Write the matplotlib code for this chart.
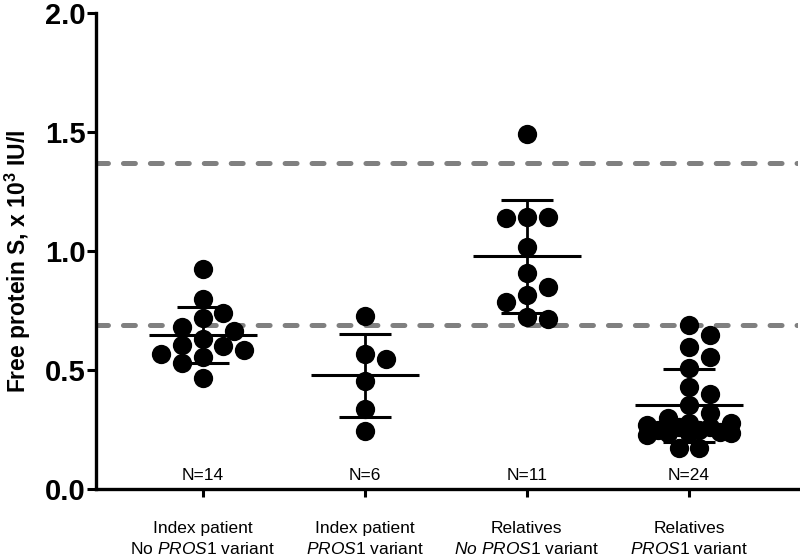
import matplotlib
matplotlib.use("Agg")
import matplotlib.pyplot as plt
import numpy as np

plt.rcParams['font.family'] = ['Liberation Sans', 'DejaVu Sans']
plt.rcParams['mathtext.fontset'] = 'custom'
plt.rcParams['mathtext.rm'] = 'Liberation Sans'
plt.rcParams['mathtext.it'] = 'Liberation Sans:italic'
plt.rcParams['mathtext.bf'] = 'Liberation Sans:bold'
plt.rcParams['lines.scale_dashes'] = False

# data (x 10^3 IU/l)
cats = ["Index patient\nNo $\\mathit{PROS1}$ variant",
        "Index patient\n$\\mathit{PROS1}$ variant",
        "Relatives\n$\\mathit{No\\ PROS1}$ variant",
        "Relatives\n$\\mathit{PROS1}$ variant"]
g1 = [0.924, 0.797, 0.738, 0.718, 0.682, 0.664, 0.630, 0.605, 0.600, 0.585,
      0.566, 0.556, 0.528, 0.468]
g2 = [0.727, 0.566, 0.546, 0.455, 0.335, 0.244]
g3 = [1.490, 1.141, 1.141, 1.137, 1.018, 0.906, 0.850, 0.815, 0.787, 0.724, 0.714]
g4 = [0.689, 0.647, 0.598, 0.556, 0.507, 0.430, 0.400, 0.353, 0.319, 0.300,
      0.277, 0.277, 0.269, 0.262, 0.262, 0.248, 0.248, 0.240, 0.235, 0.235,
      0.235, 0.227, 0.172, 0.172]
groups = [g1, g2, g3, g4]
means = [0.647, 0.478, 0.977, 0.352]
sds = [0.119, 0.174, 0.237, 0.153]
ref_range = [0.69, 1.37]  # dashed lines
yticks = [0.0, 0.5, 1.0, 1.5, 2.0]

fig = plt.figure(figsize=(8, 5.59), dpi=100)
ax = fig.add_axes([0.12, 0.1252, 0.8775, 0.8515])
ax.set_xlim(-0.657, 3.672)
ax.set_ylim(0, 2.0)

# pixel scale of the data units, used for the swarm layout
p0 = ax.transData.transform((0, 0))
p1 = ax.transData.transform((1, 1))
sx, sy = p1[0] - p0[0], p1[1] - p0[1]
dot = 19.0  # marker diameter in px

def swarm(vals, step=0.55 * dot, sep=0.95 * dot, maxw=45):
    vals = np.asarray(vals)
    order = np.argsort(-vals)
    cands = [0.0]
    k = 1
    while k * step <= maxw:
        cands += [k * step, -k * step]
        k += 1
    placed = []
    xs = np.zeros(len(vals))
    for i in order:
        y = vals[i] * sy
        best = None
        for c in cands:
            if all((c - a) ** 2 + (y - b) ** 2 >= sep ** 2 for a, b in placed):
                best = c
                break
        if best is None:  # too crowded, take the least overlapping spot
            best = max(cands, key=lambda c: min((c - a) ** 2 + (y - b) ** 2 for a, b in placed))
        placed.append((best, y))
        xs[i] = best
    return xs / sx

for r in ref_range:
    ax.axhline(r, color='#808080', lw=3.6, ls=(0, (8.6, 10.8)),
               dash_capstyle='round', zorder=1)

for i, g in enumerate(groups):
    ax.scatter(i + swarm(g), g, s=13.9 ** 2, color='black', linewidths=0, zorder=3)
    ax.text(i, 0.055, "N=%d" % len(g), ha='center', va='center', fontsize=12.5)

x = np.arange(len(groups))
ax.hlines(means, x - 0.333, x + 0.333, color='black', lw=2.2, zorder=2)
ax.errorbar(x, means, yerr=sds, fmt='none', ecolor='black', elinewidth=2.0,
            capsize=19, capthick=2.2, zorder=2)

ax.spines['top'].set_visible(False)
ax.spines['right'].set_visible(False)
ax.spines['left'].set_linewidth(2.4)
ax.spines['bottom'].set_linewidth(2.4)

ax.set_yticks(yticks)
ax.set_yticklabels(["%.1f" % t for t in yticks], fontsize=21, fontweight='bold')
ax.tick_params(axis='y', direction='out', length=6.5, width=2.2, pad=1)
ax.set_xticks(x)
ax.set_xticklabels(cats, fontsize=12.5, linespacing=1.35)
ax.tick_params(axis='x', direction='out', length=6, width=2.2, pad=17)

# y label placed by hand, centred at x ~ 17 px
fig.text(0.022, 0.532, "Free protein S, x 10$^{\\mathbf{3}}$ IU/l", rotation=90,
         ha='center', va='center', fontsize=16.5, fontweight='bold')

fig.savefig("out.png", dpi=100)
